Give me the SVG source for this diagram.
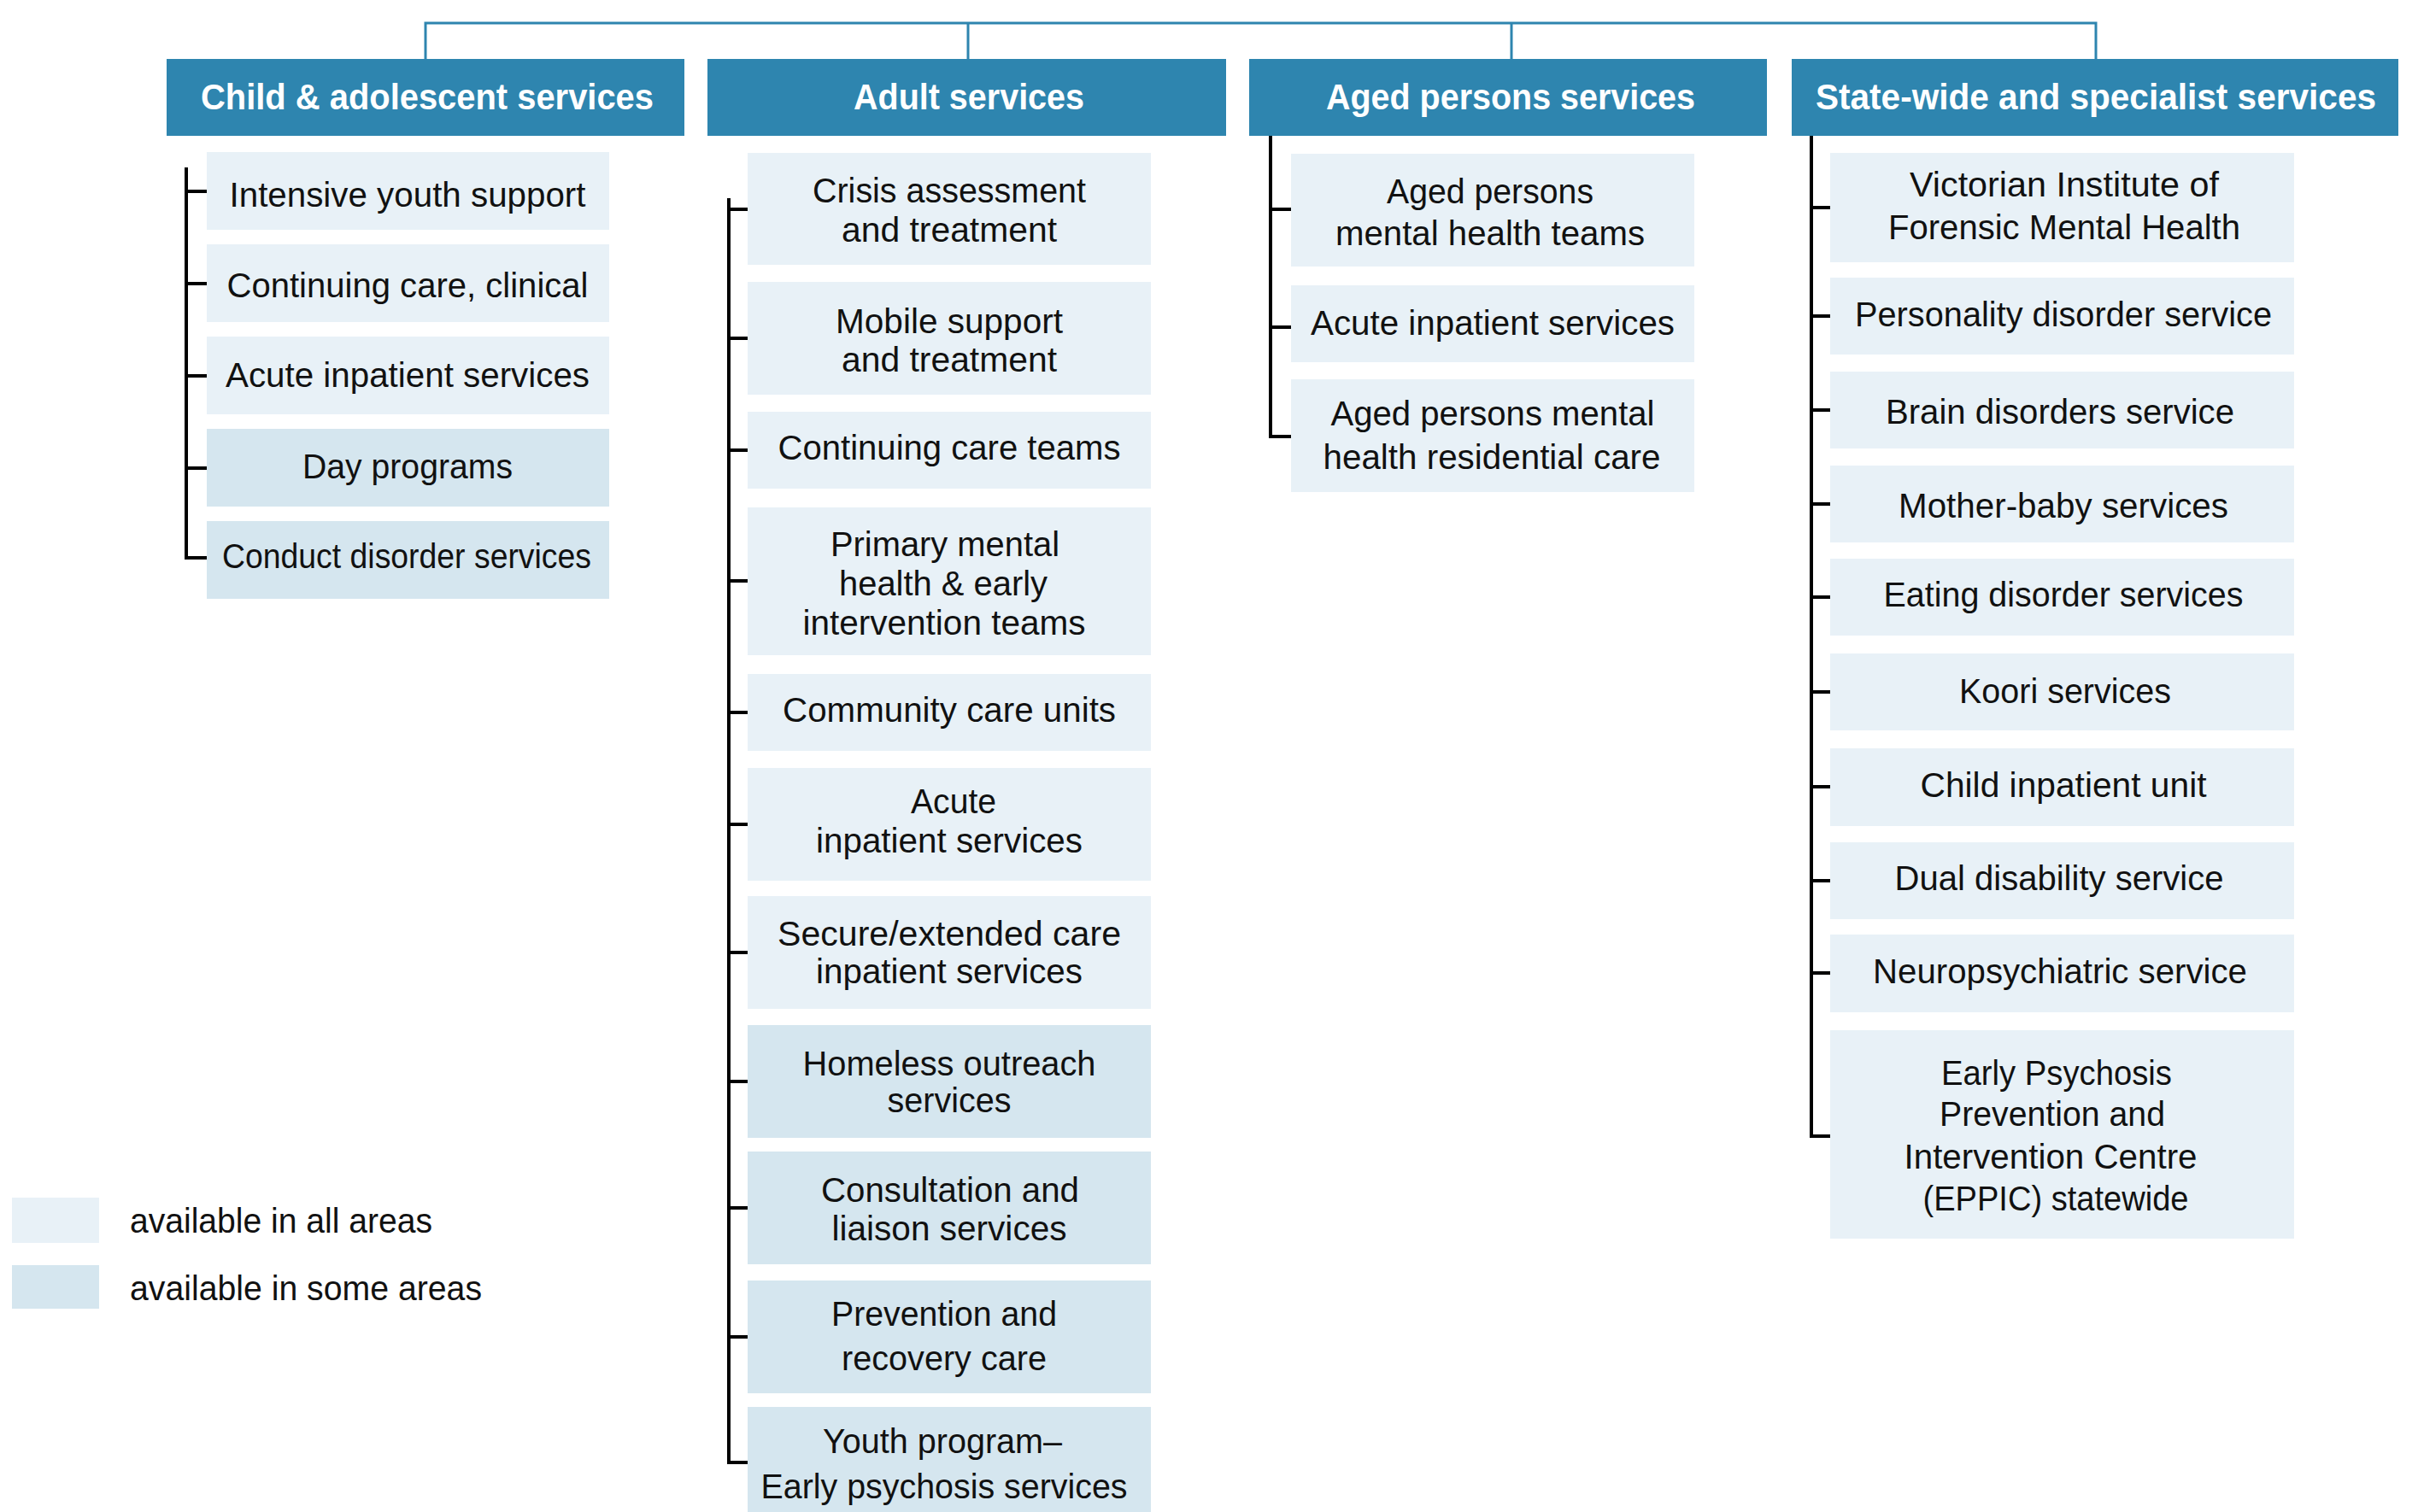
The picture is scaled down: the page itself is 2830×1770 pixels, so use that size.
<svg xmlns="http://www.w3.org/2000/svg" width="2830" height="1770" viewBox="0 0 2830 1770">
<style>
.hdr{fill:#2e85af}
.hdrt{fill:#ffffff;font-family:"Liberation Sans Narrow","Liberation Sans",Arial,sans-serif;font-weight:bold;font-size:42px;text-anchor:middle}
.all{fill:#e8f1f7}
.some{fill:#d5e6ef}
.t{fill:#111111;font-family:"Liberation Sans Narrow","Liberation Sans",Arial,sans-serif;font-size:41px;text-anchor:middle}
.lt{fill:#111111;font-family:"Liberation Sans Narrow","Liberation Sans",Arial,sans-serif;font-size:41px}
.top{fill:none;stroke:#2e85af;stroke-width:3}
.br{fill:none;stroke:#000000;stroke-width:4}
</style>
<rect width="2830" height="1770" fill="#ffffff"/>
<g id="connectors">
<path class="top" d="M498,69 V27 H2453 V69 M1133,27 V69 M1769,27 V69"/>
<path class="br" d="M242,224 H218 M242,332 H218 M242,440 H218 M242,548 H218 M218,196 V653 H242"/>
<path class="br" d="M875,245 H853 M875,396 H853 M875,527 H853 M875,680 H853 M875,834 H853 M875,965 H853 M875,1115 H853 M875,1266 H853 M875,1414 H853 M875,1565 H853 M853,232 V1712 H875"/>
<path class="br" d="M1511,245 H1487 M1511,383 H1487 M1487,159 V511 H1511"/>
<path class="br" d="M2142,243 H2120 M2142,370 H2120 M2142,480 H2120 M2142,590 H2120 M2142,699 H2120 M2142,810 H2120 M2142,921 H2120 M2142,1031 H2120 M2142,1139 H2120 M2120,159 V1330 H2142"/>
</g>
<g id="hdr-child"><rect class="hdr" x="195" y="69" width="606" height="90"/><text class="hdrt" x="500" y="128" textLength="530" lengthAdjust="spacingAndGlyphs">Child &amp; adolescent services</text></g>
<g id="hdr-adult"><rect class="hdr" x="828" y="69" width="607" height="90"/><text class="hdrt" x="1134" y="128" textLength="270" lengthAdjust="spacingAndGlyphs">Adult services</text></g>
<g id="hdr-aged"><rect class="hdr" x="1462" y="69" width="606" height="90"/><text class="hdrt" x="1768" y="128" textLength="432" lengthAdjust="spacingAndGlyphs">Aged persons services</text></g>
<g id="hdr-state"><rect class="hdr" x="2097" y="69" width="710" height="90"/><text class="hdrt" x="2453" y="128" textLength="656" lengthAdjust="spacingAndGlyphs">State-wide and specialist services</text></g>

<g id="c1"><rect class="all" x="242" y="178" width="471" height="91"/><text class="t" x="477" y="242" textLength="417" lengthAdjust="spacingAndGlyphs">Intensive youth support</text></g>
<g id="c2"><rect class="all" x="242" y="286" width="471" height="91"/><text class="t" x="477" y="348" textLength="423" lengthAdjust="spacingAndGlyphs">Continuing care, clinical</text></g>
<g id="c3"><rect class="all" x="242" y="394" width="471" height="91"/><text class="t" x="477" y="453" textLength="426" lengthAdjust="spacingAndGlyphs">Acute inpatient services</text></g>
<g id="c4"><rect class="some" x="242" y="502" width="471" height="91"/><text class="t" x="477" y="560" textLength="246" lengthAdjust="spacingAndGlyphs">Day programs</text></g>
<g id="c5"><rect class="some" x="242" y="610" width="471" height="91"/><text class="t" x="476" y="665" textLength="432" lengthAdjust="spacingAndGlyphs">Conduct disorder services</text></g>

<g id="a1"><rect class="all" x="875" y="179" width="472" height="131"/><text class="t" x="1111" y="237" textLength="320" lengthAdjust="spacingAndGlyphs">Crisis assessment</text><text class="t" x="1111" y="283" textLength="252" lengthAdjust="spacingAndGlyphs">and treatment</text></g>
<g id="a2"><rect class="all" x="875" y="330" width="472" height="132"/><text class="t" x="1111" y="390" textLength="266" lengthAdjust="spacingAndGlyphs">Mobile support</text><text class="t" x="1111" y="435" textLength="252" lengthAdjust="spacingAndGlyphs">and treatment</text></g>
<g id="a3"><rect class="all" x="875" y="482" width="472" height="90"/><text class="t" x="1111" y="538" textLength="401" lengthAdjust="spacingAndGlyphs">Continuing care teams</text></g>
<g id="a4"><rect class="all" x="875" y="594" width="472" height="173"/><text class="t" x="1106" y="651" textLength="268" lengthAdjust="spacingAndGlyphs">Primary mental</text><text class="t" x="1104" y="697" textLength="244" lengthAdjust="spacingAndGlyphs">health &amp; early</text><text class="t" x="1105" y="743" textLength="331" lengthAdjust="spacingAndGlyphs">intervention teams</text></g>
<g id="a5"><rect class="all" x="875" y="789" width="472" height="90"/><text class="t" x="1111" y="845" textLength="390" lengthAdjust="spacingAndGlyphs">Community care units</text></g>
<g id="a6"><rect class="all" x="875" y="899" width="472" height="132"/><text class="t" x="1116" y="952" textLength="100" lengthAdjust="spacingAndGlyphs">Acute</text><text class="t" x="1111" y="998" textLength="312" lengthAdjust="spacingAndGlyphs">inpatient services</text></g>
<g id="a7"><rect class="all" x="875" y="1049" width="472" height="132"/><text class="t" x="1111" y="1107" textLength="402" lengthAdjust="spacingAndGlyphs">Secure/extended care</text><text class="t" x="1111" y="1151" textLength="312" lengthAdjust="spacingAndGlyphs">inpatient services</text></g>
<g id="a8"><rect class="some" x="875" y="1200" width="472" height="132"/><text class="t" x="1111" y="1259" textLength="343" lengthAdjust="spacingAndGlyphs">Homeless outreach</text><text class="t" x="1111" y="1302" textLength="145" lengthAdjust="spacingAndGlyphs">services</text></g>
<g id="a9"><rect class="some" x="875" y="1348" width="472" height="132"/><text class="t" x="1112" y="1407" textLength="302" lengthAdjust="spacingAndGlyphs">Consultation and</text><text class="t" x="1111" y="1452" textLength="275" lengthAdjust="spacingAndGlyphs">liaison services</text></g>
<g id="a10"><rect class="some" x="875" y="1499" width="472" height="132"/><text class="t" x="1105" y="1552" textLength="264" lengthAdjust="spacingAndGlyphs">Prevention and</text><text class="t" x="1105" y="1604" textLength="240" lengthAdjust="spacingAndGlyphs">recovery care</text></g>
<g id="a11"><rect class="some" x="875" y="1647" width="472" height="132"/><text class="t" x="1103" y="1701" textLength="280" lengthAdjust="spacingAndGlyphs">Youth program–</text><text class="t" x="1105" y="1754" textLength="429" lengthAdjust="spacingAndGlyphs">Early psychosis services</text></g>

<g id="g1"><rect class="all" x="1511" y="180" width="472" height="132"/><text class="t" x="1744" y="238" textLength="242" lengthAdjust="spacingAndGlyphs">Aged persons</text><text class="t" x="1744" y="287" textLength="362" lengthAdjust="spacingAndGlyphs">mental health teams</text></g>
<g id="g2"><rect class="all" x="1511" y="334" width="472" height="90"/><text class="t" x="1747" y="392" textLength="426" lengthAdjust="spacingAndGlyphs">Acute inpatient services</text></g>
<g id="g3"><rect class="all" x="1511" y="444" width="472" height="132"/><text class="t" x="1747" y="498" textLength="379" lengthAdjust="spacingAndGlyphs">Aged persons mental</text><text class="t" x="1746" y="549" textLength="395" lengthAdjust="spacingAndGlyphs">health residential care</text></g>

<g id="s1"><rect class="all" x="2142" y="179" width="543" height="128"/><text class="t" x="2416" y="230" textLength="362" lengthAdjust="spacingAndGlyphs">Victorian Institute of</text><text class="t" x="2416" y="280" textLength="412" lengthAdjust="spacingAndGlyphs">Forensic Mental Health</text></g>
<g id="s2"><rect class="all" x="2142" y="325" width="543" height="90"/><text class="t" x="2415" y="382" textLength="488" lengthAdjust="spacingAndGlyphs">Personality disorder service</text></g>
<g id="s3"><rect class="all" x="2142" y="435" width="543" height="90"/><text class="t" x="2411" y="496" textLength="408" lengthAdjust="spacingAndGlyphs">Brain disorders service</text></g>
<g id="s4"><rect class="all" x="2142" y="545" width="543" height="90"/><text class="t" x="2415" y="606" textLength="386" lengthAdjust="spacingAndGlyphs">Mother-baby services</text></g>
<g id="s5"><rect class="all" x="2142" y="654" width="543" height="90"/><text class="t" x="2415" y="710" textLength="421" lengthAdjust="spacingAndGlyphs">Eating disorder services</text></g>
<g id="s6"><rect class="all" x="2142" y="765" width="543" height="90"/><text class="t" x="2417" y="823" textLength="248" lengthAdjust="spacingAndGlyphs">Koori services</text></g>
<g id="s7"><rect class="all" x="2142" y="876" width="543" height="91"/><text class="t" x="2415" y="933" textLength="335" lengthAdjust="spacingAndGlyphs">Child inpatient unit</text></g>
<g id="s8"><rect class="all" x="2142" y="986" width="543" height="90"/><text class="t" x="2410" y="1042" textLength="385" lengthAdjust="spacingAndGlyphs">Dual disability service</text></g>
<g id="s9"><rect class="all" x="2142" y="1094" width="543" height="91"/><text class="t" x="2411" y="1151" textLength="438" lengthAdjust="spacingAndGlyphs">Neuropsychiatric service</text></g>
<g id="s10"><rect class="all" x="2142" y="1206" width="543" height="244"/><text class="t" x="2407" y="1270" textLength="270" lengthAdjust="spacingAndGlyphs">Early Psychosis</text><text class="t" x="2402" y="1318" textLength="264" lengthAdjust="spacingAndGlyphs">Prevention and</text><text class="t" x="2400" y="1368" textLength="343" lengthAdjust="spacingAndGlyphs">Intervention Centre</text><text class="t" x="2406" y="1417" textLength="311" lengthAdjust="spacingAndGlyphs">(EPPIC) statewide</text></g>

<g id="legend">
<rect class="all" x="14" y="1402" width="102" height="53"/>
<text class="lt" x="152" y="1443" textLength="354" lengthAdjust="spacingAndGlyphs">available in all areas</text>
<rect class="some" x="14" y="1481" width="102" height="51"/>
<text class="lt" x="152" y="1522" textLength="412" lengthAdjust="spacingAndGlyphs">available in some areas</text>
</g>
</svg>
